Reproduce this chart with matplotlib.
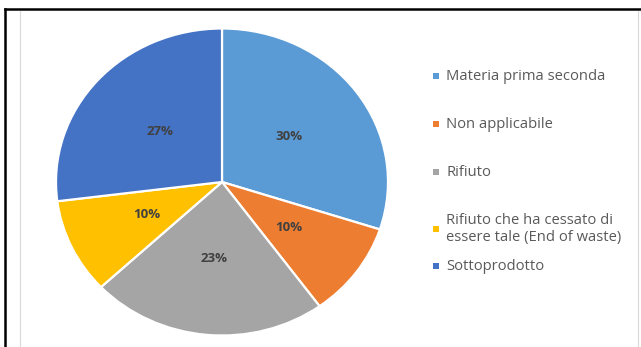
import matplotlib
matplotlib.use("Agg")
import matplotlib.pyplot as plt
from matplotlib.lines import Line2D
from matplotlib.patches import Rectangle

# Share of products by classification
categories = [
    "Materia prima seconda",
    "Non applicabile",
    "Rifiuto",
    "Rifiuto che ha cessato di\nessere tale (End of waste)",
    "Sottoprodotto",
]
shares = [30, 10, 23, 10, 27]
colors = ["#5B9BD5", "#ED7D31", "#A5A5A5", "#FFC000", "#4472C4"]

W, H = 641, 347
fig = plt.figure(figsize=(W / 100, H / 100), dpi=100)
fig.patch.set_facecolor("white")

# pie axes spans the (slightly stretched) ellipse
cx, cy, rx, ry = 222, 182, 166, 153.5
ax = fig.add_axes([(cx - rx) / W, (H - cy - ry) / H, 2 * rx / W, 2 * ry / H])
wedges, texts, autotexts = ax.pie(
    shares, colors=colors, startangle=90, counterclock=False,
    autopct="%d%%", pctdistance=0.5,
    wedgeprops=dict(edgecolor="white", linewidth=1.6),
    textprops=dict(color="#404040", fontsize=9.5, fontweight="bold",
                   family="Open Sans"),
)
ax.set_aspect("auto")
ax.set_xlim(-1, 1)
ax.set_ylim(-1, 1)

# legend entries laid out down the right side
legend_y = [76, 124, 172, 229, 266]
for label, col, y in zip(categories, colors, legend_y):
    fig.text(446 / W, 1 - y / H, label, ha="left", va="center",
             fontsize=10.6, color="#595959", family="Open Sans",
             linespacing=1.2)
    fig.add_artist(Rectangle(((436 - 3) / W, 1 - (y + 3) / H), 6 / W, 6 / H,
                             transform=fig.transFigure, color=col, lw=0))

# outer black frame and inner grey chart border
tf = fig.transFigure
fig.add_artist(Line2D([5 / W, 1], [1 - 9 / H] * 2, color="black", lw=1.8, transform=tf))
fig.add_artist(Line2D([5 / W] * 2, [0, 1 - 9 / H], color="black", lw=1.8, transform=tf))
fig.add_artist(Line2D([20 / W] * 2, [0, 1 - 11 / H], color="#d9d9d9", lw=0.8, transform=tf))
fig.add_artist(Line2D([638 / W] * 2, [0, 1 - 11 / H], color="#d9d9d9", lw=0.8, transform=tf))

fig.savefig("out.png", dpi=100)
